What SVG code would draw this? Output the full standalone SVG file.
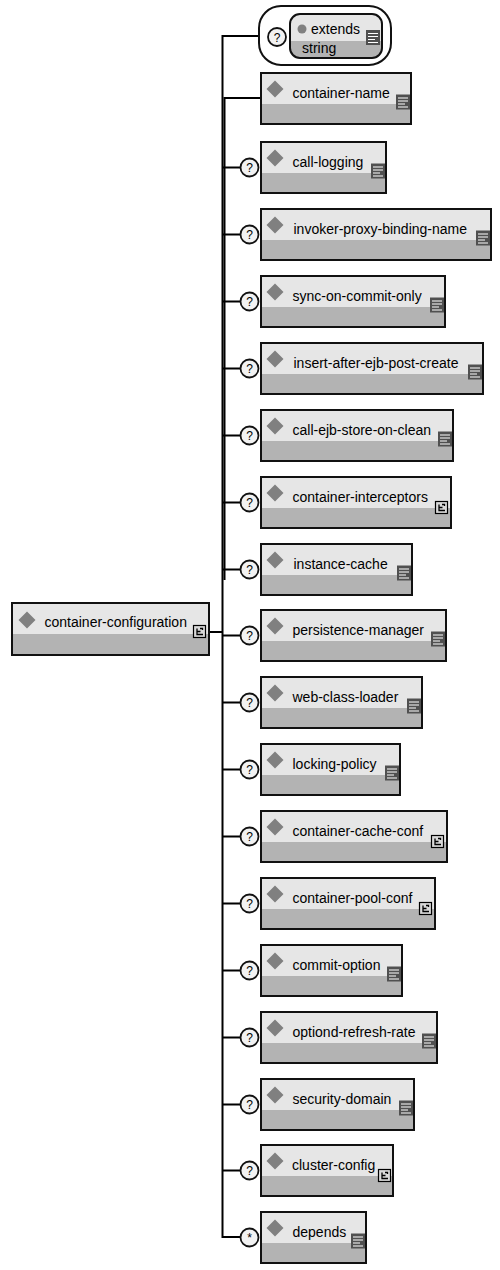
<svg xmlns="http://www.w3.org/2000/svg" xmlns:xlink="http://www.w3.org/1999/xlink" width="500" height="1270" viewBox="0 0 500 1270">
<style>
.lo{fill:#b3b3b3;stroke:none}
.up{fill:#e6e6e6;stroke:none}
.bd{fill:none;stroke:#111;stroke-width:2}
.lbl{font-family:"Liberation Sans",Arial,sans-serif;font-size:14px;fill:#000}
.occ{fill:#f2f2f2;stroke:#111;stroke-width:1.8}
.occt{font-family:"Liberation Sans",Arial,sans-serif;font-size:12px;fill:#000;text-anchor:middle}
.con{fill:none;stroke:#000;stroke-width:2}
</style>
<defs>
<polygon id="dia" points="0,-8.5 8.5,0 0,8.5 -8.5,0" fill="#808080"/>
<g id="simple">
<rect x="0" y="0" width="14" height="15" fill="#505050"/>
<path d="M2 3.5H12M2 6.5H12M2 9.5H9M2 12.5H12" stroke="#fff" stroke-width="1.2"/>
</g>
<g id="complex">
<rect x="0.5" y="0.5" width="12" height="12" fill="#d9d9d9" stroke="#000" stroke-width="1.2"/>
<path d="M4 3.5V9.5H10M4 6.5H7.5M7 3.5H9.5V5" fill="none" stroke="#000" stroke-width="1.3"/>
</g>
</defs>

<g id="connectors">
<path class="con" d="M259 36H222.5V1237H240"/>
<path class="con" d="M224.5 580V98H261" stroke-width="1.6"/>
<path class="con" d="M209 632H222.5"/>
<path class="con" d="M222.5 167.5H240M222.5 234.5H240M222.5 301.5H240M222.5 368.5H240M222.5 435.5H240M222.5 502.5H240M222.5 569.5H240M222.5 635.5H240M222.5 702.5H240M222.5 769.5H240M222.5 836.5H240M222.5 903.5H240M222.5 970.5H240M222.5 1037.5H240M222.5 1104.5H240M222.5 1170.5H240"/>
</g>

<g id="root" transform="translate(12,603)">
<rect class="lo" width="197" height="52"/><rect class="up" width="197" height="31"/><rect class="bd" width="197" height="52"/>
<use href="#dia" x="15" y="17"/>
<text class="lbl" x="32.5" y="24">container-configuration</text>
<use href="#complex" x="181" y="22"/>
</g>

<g id="attr-extends">
<rect x="259" y="6" width="132" height="59" rx="22" fill="#fff" stroke="#111" stroke-width="2"/>
<circle class="occ" cx="277" cy="37" r="9"/><text class="occt" x="277" y="41.5">?</text>
<rect x="290" y="14" width="92" height="44" rx="10" class="lo"/>
<path d="M290 41V24A10 10 0 0 1 300 14H372A10 10 0 0 1 382 24V41Z" class="up"/>
<rect x="290" y="14" width="92" height="44" rx="10" class="bd"/>
<circle cx="302" cy="29" r="4.5" fill="#808080"/>
<text class="lbl" x="311" y="34">extends</text>
<text class="lbl" x="302" y="52.5">string</text>
<use href="#simple" x="366" y="30"/>
</g>

<g id="container-name" transform="translate(261,73)">
<rect class="lo" width="150" height="51"/><rect class="up" width="150" height="31"/><rect class="bd" width="150" height="51"/>
<use href="#dia" x="14" y="16"/><text class="lbl" x="31.5" y="24.5">container-name</text>
<use href="#simple" x="135" y="21.5"/>
</g>

<g id="call-logging" transform="translate(261,142)">
<circle class="occ" cx="-11.5" cy="25.5" r="9"/><text class="occt" x="-11.5" y="30">?</text>
<rect class="lo" width="125" height="51"/><rect class="up" width="125" height="31"/><rect class="bd" width="125" height="51"/>
<use href="#dia" x="14" y="16"/><text class="lbl" x="31.5" y="24.5">call-logging</text>
<use href="#simple" x="110" y="21.5"/>
</g>

<g id="invoker-proxy-binding-name" transform="translate(261,209)">
<circle class="occ" cx="-11.5" cy="25.5" r="9"/><text class="occt" x="-11.5" y="30">?</text>
<rect class="lo" width="230" height="51"/><rect class="up" width="230" height="31"/><rect class="bd" width="230" height="51"/>
<use href="#dia" x="14" y="16"/><text class="lbl" x="32.5" y="24.5">invoker-proxy-binding-name</text>
<use href="#simple" x="215" y="21.5"/>
</g>

<g id="sync-on-commit-only" transform="translate(261,276)">
<circle class="occ" cx="-11.5" cy="25.5" r="9"/><text class="occt" x="-11.5" y="30">?</text>
<rect class="lo" width="184" height="51"/><rect class="up" width="184" height="31"/><rect class="bd" width="184" height="51"/>
<use href="#dia" x="14" y="16"/><text class="lbl" x="31.5" y="24.5">sync-on-commit-only</text>
<use href="#simple" x="169" y="21.5"/>
</g>

<g id="insert-after-ejb-post-create" transform="translate(261,343)">
<circle class="occ" cx="-11.5" cy="25.5" r="9"/><text class="occt" x="-11.5" y="30">?</text>
<rect class="lo" width="222" height="51"/><rect class="up" width="222" height="31"/><rect class="bd" width="222" height="51"/>
<use href="#dia" x="14" y="16"/><text class="lbl" x="32.5" y="24.5">insert-after-ejb-post-create</text>
<use href="#simple" x="207" y="21.5"/>
</g>

<g id="call-ejb-store-on-clean" transform="translate(261,410)">
<circle class="occ" cx="-11.5" cy="25.5" r="9"/><text class="occt" x="-11.5" y="30">?</text>
<rect class="lo" width="192" height="51"/><rect class="up" width="192" height="31"/><rect class="bd" width="192" height="51"/>
<use href="#dia" x="14" y="16"/><text class="lbl" x="31.5" y="24.5">call-ejb-store-on-clean</text>
<use href="#simple" x="177" y="21.5"/>
</g>

<g id="container-interceptors" transform="translate(261,477)">
<circle class="occ" cx="-11.5" cy="25.5" r="9"/><text class="occt" x="-11.5" y="30">?</text>
<rect class="lo" width="190" height="51"/><rect class="up" width="190" height="31"/><rect class="bd" width="190" height="51"/>
<use href="#dia" x="14" y="16"/><text class="lbl" x="31.5" y="24.5">container-interceptors</text>
<use href="#complex" x="174" y="24"/>
</g>

<g id="instance-cache" transform="translate(261,544)">
<circle class="occ" cx="-11.5" cy="25.5" r="9"/><text class="occt" x="-11.5" y="30">?</text>
<rect class="lo" width="151" height="51"/><rect class="up" width="151" height="31"/><rect class="bd" width="151" height="51"/>
<use href="#dia" x="14" y="16"/><text class="lbl" x="32.5" y="24.5">instance-cache</text>
<use href="#simple" x="136" y="21.5"/>
</g>

<g id="persistence-manager" transform="translate(261,610)">
<circle class="occ" cx="-11.5" cy="25.5" r="9"/><text class="occt" x="-11.5" y="30">?</text>
<rect class="lo" width="185" height="51"/><rect class="up" width="185" height="31"/><rect class="bd" width="185" height="51"/>
<use href="#dia" x="14" y="16"/><text class="lbl" x="31.5" y="24.5">persistence-manager</text>
<use href="#simple" x="170" y="21.5"/>
</g>

<g id="web-class-loader" transform="translate(261,677)">
<circle class="occ" cx="-11.5" cy="25.5" r="9"/><text class="occt" x="-11.5" y="30">?</text>
<rect class="lo" width="161" height="51"/><rect class="up" width="161" height="31"/><rect class="bd" width="161" height="51"/>
<use href="#dia" x="14" y="16"/><text class="lbl" x="31.5" y="24.5">web-class-loader</text>
<use href="#simple" x="146" y="21.5"/>
</g>

<g id="locking-policy" transform="translate(261,744)">
<circle class="occ" cx="-11.5" cy="25.5" r="9"/><text class="occt" x="-11.5" y="30">?</text>
<rect class="lo" width="139" height="51"/><rect class="up" width="139" height="31"/><rect class="bd" width="139" height="51"/>
<use href="#dia" x="14" y="16"/><text class="lbl" x="31.5" y="24.5">locking-policy</text>
<use href="#simple" x="124" y="21.5"/>
</g>

<g id="container-cache-conf" transform="translate(261,811)">
<circle class="occ" cx="-11.5" cy="25.5" r="9"/><text class="occt" x="-11.5" y="30">?</text>
<rect class="lo" width="186" height="51"/><rect class="up" width="186" height="31"/><rect class="bd" width="186" height="51"/>
<use href="#dia" x="14" y="16"/><text class="lbl" x="31.5" y="24.5">container-cache-conf</text>
<use href="#complex" x="170" y="24"/>
</g>

<g id="container-pool-conf" transform="translate(261,878)">
<circle class="occ" cx="-11.5" cy="25.5" r="9"/><text class="occt" x="-11.5" y="30">?</text>
<rect class="lo" width="174" height="51"/><rect class="up" width="174" height="31"/><rect class="bd" width="174" height="51"/>
<use href="#dia" x="14" y="16"/><text class="lbl" x="31.5" y="24.5">container-pool-conf</text>
<use href="#complex" x="158" y="24"/>
</g>

<g id="commit-option" transform="translate(261,945)">
<circle class="occ" cx="-11.5" cy="25.5" r="9"/><text class="occt" x="-11.5" y="30">?</text>
<rect class="lo" width="141" height="51"/><rect class="up" width="141" height="31"/><rect class="bd" width="141" height="51"/>
<use href="#dia" x="14" y="16"/><text class="lbl" x="31.5" y="24.5">commit-option</text>
<use href="#simple" x="126" y="21.5"/>
</g>

<g id="optiond-refresh-rate" transform="translate(261,1012)">
<circle class="occ" cx="-11.5" cy="25.5" r="9"/><text class="occt" x="-11.5" y="30">?</text>
<rect class="lo" width="176" height="51"/><rect class="up" width="176" height="31"/><rect class="bd" width="176" height="51"/>
<use href="#dia" x="14" y="16"/><text class="lbl" x="31.5" y="24.5">optiond-refresh-rate</text>
<use href="#simple" x="161" y="21.5"/>
</g>

<g id="security-domain" transform="translate(261,1079)">
<circle class="occ" cx="-11.5" cy="25.5" r="9"/><text class="occt" x="-11.5" y="30">?</text>
<rect class="lo" width="153" height="51"/><rect class="up" width="153" height="31"/><rect class="bd" width="153" height="51"/>
<use href="#dia" x="14" y="16"/><text class="lbl" x="31.5" y="24.5">security-domain</text>
<use href="#simple" x="138" y="21.5"/>
</g>

<g id="cluster-config" transform="translate(261,1145)">
<circle class="occ" cx="-11.5" cy="25.5" r="9"/><text class="occt" x="-11.5" y="30">?</text>
<rect class="lo" width="132" height="51"/><rect class="up" width="132" height="31"/><rect class="bd" width="132" height="51"/>
<use href="#dia" x="14" y="16"/><text class="lbl" x="31" y="24.5">cluster-config</text>
<use href="#complex" x="117" y="24"/>
</g>

<g id="depends" transform="translate(261,1212)">
<circle class="occ" cx="-11.5" cy="25.5" r="9"/><text class="occt" x="-11.5" y="30">*</text>
<rect class="lo" width="105" height="51"/><rect class="up" width="105" height="31"/><rect class="bd" width="105" height="51"/>
<use href="#dia" x="14" y="16"/><text class="lbl" x="31.5" y="24.5">depends</text>
<use href="#simple" x="90" y="21.5"/>
</g>
</svg>
